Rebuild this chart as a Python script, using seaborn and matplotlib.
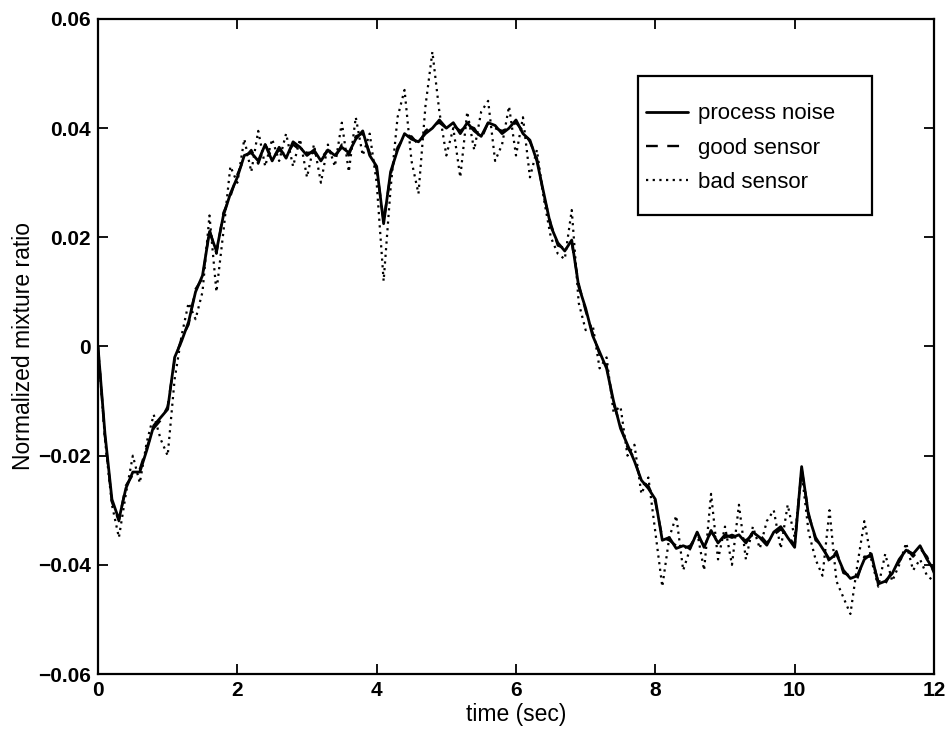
import numpy as np
import pandas as pd
import matplotlib
matplotlib.use("Agg")
import matplotlib.pyplot as plt
from matplotlib.patches import Rectangle
import seaborn as sns

time_sec = [round(0.1 * i, 1) for i in range(121)]

process_noise = [
    0.000, -0.016, -0.028, -0.0317, -0.026, -0.023, -0.023, -0.019, -0.0145, -0.013,
    -0.0115, -0.002, 0.001, 0.0045, 0.010, 0.013, 0.021, 0.0175, 0.024, 0.028,
    0.031, 0.035, 0.0355, 0.034, 0.037, 0.034, 0.0365, 0.0345, 0.0375, 0.0365,
    0.035, 0.036, 0.034, 0.036, 0.035, 0.0365, 0.0355, 0.038, 0.0395, 0.035,
    0.033, 0.0225, 0.032, 0.036, 0.039, 0.038, 0.0375, 0.039, 0.040, 0.0415,
    0.040, 0.041, 0.039, 0.041, 0.0395, 0.0385, 0.041, 0.0405, 0.039, 0.040,
    0.0415, 0.039, 0.0378, 0.034, 0.028, 0.022, 0.019, 0.0175, 0.0195, 0.011,
    0.007, 0.002, -0.001, -0.004, -0.010, -0.015, -0.018, -0.021, -0.0245, -0.026,
    -0.028, -0.0355, -0.035, -0.037, -0.0365, -0.037, -0.034, -0.0368, -0.0337, -0.036,
    -0.0345, -0.035, -0.0345, -0.036, -0.034, -0.035, -0.0364, -0.034, -0.033, -0.035,
    -0.0368, -0.022, -0.031, -0.035, -0.037, -0.039, -0.038, -0.041, -0.0425, -0.042,
    -0.039, -0.038, -0.0435, -0.043, -0.0416, -0.039, -0.0373, -0.038, -0.0365, -0.039,
    -0.041,
]

good_sensor = [
    0.000, -0.0165, -0.0285, -0.0320, -0.0255, -0.0235, -0.0225, -0.0185, -0.0150, -0.0135,
    -0.0110, -0.0025, 0.0015, 0.0040, 0.0105, 0.0125, 0.0215, 0.0170, 0.0245, 0.0275,
    0.0315, 0.0345, 0.0360, 0.0335, 0.0370, 0.0345, 0.0360, 0.0350, 0.0370, 0.0360,
    0.0355, 0.0355, 0.0345, 0.0360, 0.0345, 0.0370, 0.0350, 0.0385, 0.0390, 0.0355,
    0.0325, 0.0230, 0.0315, 0.0365, 0.0385, 0.0385, 0.0370, 0.0395, 0.0405, 0.0410,
    0.0400, 0.0405, 0.0395, 0.0405, 0.0400, 0.0380, 0.0410, 0.0400, 0.0395, 0.0400,
    0.0410, 0.0395, 0.0375, 0.0345, 0.0275, 0.0225, 0.0185, 0.0180, 0.0190, 0.0115,
    0.0065, 0.0025, -0.0015, -0.0035, -0.0105, -0.0145, -0.0185, -0.0205, -0.0250, -0.0255,
    -0.0285, -0.0350, -0.0355, -0.0365, -0.0370, -0.0365, -0.0345, -0.0365, -0.0340, -0.0355,
    -0.0350, -0.0345, -0.0350, -0.0355, -0.0345, -0.0345, -0.0360, -0.0345, -0.0335, -0.0345,
    -0.0365, -0.0225, -0.0305, -0.0355, -0.0365, -0.0395, -0.0375, -0.0415, -0.0420, -0.0425,
    -0.0385, -0.0385, -0.0430, -0.0435, -0.0410, -0.0395, -0.0370, -0.0385, -0.0370, -0.0385,
    -0.0415,
]

bad_sensor = [
    0.000, -0.017, -0.029, -0.035, -0.027, -0.020, -0.025, -0.0175, -0.0125, -0.017,
    -0.020, -0.006, 0.002, 0.008, 0.005, 0.010, 0.024, 0.010, 0.021, 0.033,
    0.030, 0.038, 0.032, 0.0395, 0.033, 0.038, 0.034, 0.039, 0.033, 0.038,
    0.031, 0.037, 0.030, 0.037, 0.033, 0.041, 0.032, 0.042, 0.035, 0.039,
    0.030, 0.012, 0.029, 0.042, 0.047, 0.034, 0.028, 0.044, 0.054, 0.043,
    0.035, 0.040, 0.031, 0.043, 0.036, 0.043, 0.045, 0.034, 0.037, 0.044,
    0.035, 0.042, 0.031, 0.036, 0.027, 0.020, 0.017, 0.016, 0.025, 0.008,
    0.003, 0.004, -0.004, -0.002, -0.012, -0.011, -0.020, -0.018, -0.027, -0.024,
    -0.034, -0.044, -0.035, -0.031, -0.041, -0.037, -0.034, -0.041, -0.027, -0.039,
    -0.033, -0.040, -0.029, -0.039, -0.033, -0.037, -0.032, -0.030, -0.037, -0.029,
    -0.035, -0.023, -0.034, -0.039, -0.042, -0.030, -0.043, -0.046, -0.049, -0.040,
    -0.032, -0.039, -0.044, -0.038, -0.043, -0.040, -0.036, -0.041, -0.039, -0.042,
    -0.043,
]

series_names = ["process noise", "good sensor", "bad sensor"]
x_ticks = [0, 2, 4, 6, 8, 10, 12]
y_ticks = [-0.06, -0.04, -0.02, 0, 0.02, 0.04, 0.06]
y_tick_labels = ["\u22120.06", "\u22120.04", "\u22120.02", "0", "0.02", "0.04", "0.06"]

df = pd.DataFrame({
    "time": time_sec * 3,
    "value": process_noise + good_sensor + bad_sensor,
    "series": [series_names[0]] * 121 + [series_names[1]] * 121 + [series_names[2]] * 121,
})

sns.set_style("ticks")
plt.rcParams["font.family"] = ["Liberation Sans", "DejaVu Sans"]
plt.rcParams["text.color"] = "black"
plt.rcParams["axes.labelcolor"] = "black"

fig = plt.figure(figsize=(9.51, 7.37), dpi=100)
ax = fig.add_axes([98 / 951, 1 - 674 / 737, 836 / 951, 655 / 737])

styles = {"process noise": "-", "good sensor": (0, (5, 4)), "bad sensor": (0, (1, 2))}
widths = {"process noise": 2.0, "good sensor": 1.7, "bad sensor": 1.6}
for name in series_names:
    sub = df[df["series"] == name]
    sns.lineplot(data=sub, x="time", y="value", ax=ax, color="black",
                 linestyle=styles[name], linewidth=widths[name], label=name,
                 estimator=None, sort=False)

ax.set_xlim(0, 12)
ax.set_ylim(-0.06, 0.06)
ax.set_xticks(x_ticks)
ax.set_xticklabels([str(v) for v in x_ticks])
ax.set_yticks(y_ticks)
ax.set_yticklabels(y_tick_labels)
ax.tick_params(direction="in", length=7, width=1.3, top=True, right=True,
               labelsize=15, pad=5, colors="black")
for lbl in ax.get_xticklabels() + ax.get_yticklabels():
    lbl.set_fontweight("bold")
for sp in ax.spines.values():
    sp.set_visible(True)
    sp.set_linewidth(1.6)
    sp.set_color("black")

ax.set_xlabel("time (sec)", fontsize=16.5, labelpad=2, color="black")
ax.set_ylabel("Normalized mixture ratio", fontsize=16.5, labelpad=2, color="black")

# legend frame (MATLAB-style box) and entries
ax.add_patch(Rectangle((0.646, 0.7008), 0.280, 0.212, transform=ax.transAxes,
                       facecolor="white", edgecolor="black", linewidth=1.6, zorder=5))
leg = ax.legend(loc="upper left", bbox_to_anchor=(0.6555, 0.871), borderaxespad=0,
                frameon=False, fontsize=16,
                handlelength=1.9, labelspacing=0.6, borderpad=0, handletextpad=0.45)
leg.set_zorder(6)

fig.savefig("out.png", dpi=100)
